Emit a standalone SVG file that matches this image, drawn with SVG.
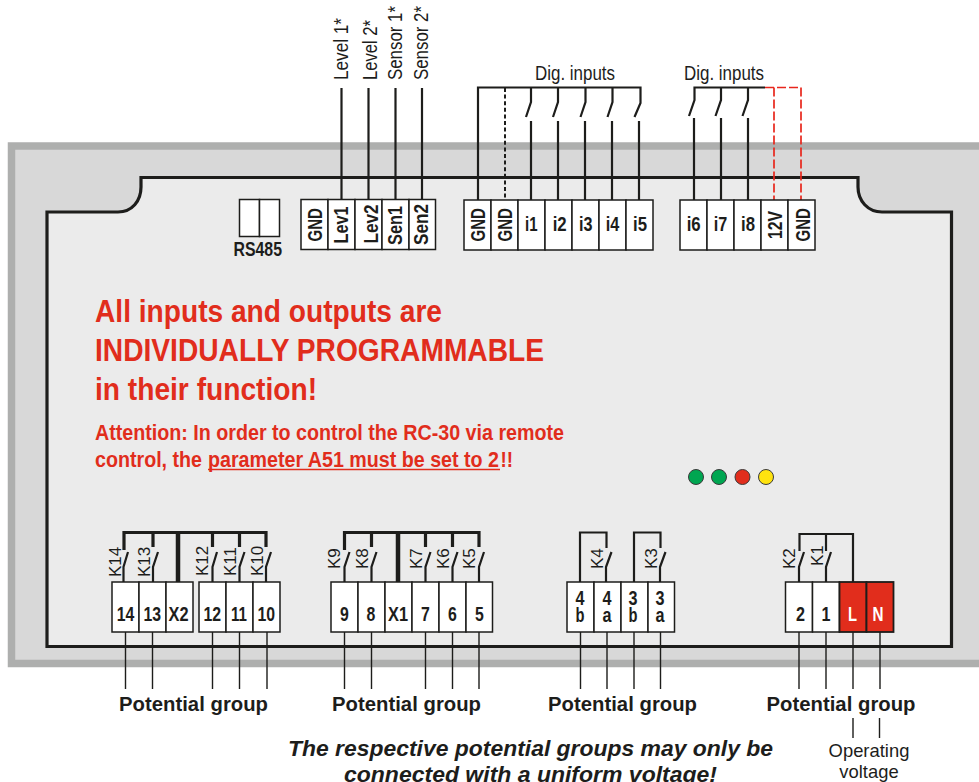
<svg xmlns="http://www.w3.org/2000/svg" width="979" height="782" viewBox="0 0 979 782">
<style>
text{font-family:"Liberation Sans",Arial,sans-serif;fill:#1d1d1b}
.cell{fill:#fff;stroke:#1d1d1b;stroke-width:1.5}
.red{fill:#e12d1c;stroke:#1d1d1b;stroke-width:1.8}
.w{fill:none;stroke:#1d1d1b;stroke-width:2.2}
.n{fill:none;stroke:#1d1d1b;stroke-width:1.4}
.t{fill:none;stroke:#1d1d1b;stroke-width:3.2}
.dash{fill:none;stroke:#1d1d1b;stroke-width:2;stroke-dasharray:4 2.6}
.rd{fill:none;stroke:#e8261c;stroke-width:1.7;stroke-dasharray:9 3}
.tb{font-size:21px;font-weight:bold}
.nb{font-size:20px;font-weight:bold}
.k{font-size:17px}
.top{font-size:20px}
.pg{font-size:20.3px;font-weight:bold}
.rh{font-size:32px;font-weight:bold;fill:#e12d1c}
.ra{font-size:22px;font-weight:bold;fill:#e12d1c}
.it{font-size:22px;font-weight:bold;font-style:italic}
.led{stroke:#3a3a3a;stroke-width:1}
</style>
<g id="housing">
<rect x="11.500" y="146" width="975" height="517.500" fill="#d8d8d8" stroke="#aeafae" stroke-width="7.500"/>
<path d="M141 177.500H858V187C858 201 868 212 882 212H951.500V646.500H47V212H118C132 212 141 201 141 187Z" fill="#ebebeb" stroke="#1d1d1b" stroke-width="3.200"/>
</g>
<g id="connectors">
<path class="w" d="M341.500 88V199M368.500 88V199M395.500 88V199M422 88V199"/>
<path class="w" d="M478 200V87.500H640.500V103L634.500 117M531 87.500V102L526 117M558 87.500V102L553 117M585.500 87.500V102L580.500 117M612.500 87.500V102L607.500 117"/>
<path class="w" d="M531 121V200M558 121V200M585 121V200M612 121V200M639 121V200"/>
<path class="dash" d="M505 88V200"/>
<path class="w" d="M765 87.500H694.500V100L689 116M721 87.500V100L715.500 116M748 87.500V100L742.500 116"/>
<path class="w" d="M694 118V200M721 118V200M748 118V200"/>
<path class="rd" d="M765 87.500H801V200M774 87.500V200"/>
<path class="t" d="M124 550V532.500H266V547M153 532.500V547M212.500 532.500V547M239.500 532.500V547"/>
<path class="t" d="M344.500 550V532.500H479V547M371.500 532.500V547M425.500 532.500V547M452.500 532.500V547" />
<path fill="none" stroke="#1d1d1b" stroke-width="4.500" d="M178 532.500V582M398 532.500V582"/>
<path class="w" d="M128 552L123.500 567V582M158 552L153 567V582M217 552L212.500 567V582M244.500 552L239.500 567V582M271 552L266 567V582M349.500 552L344.500 567V582M376.500 552L371.500 567V582M430.500 552L425.500 567V582M457.500 552L452.500 567V582M484 552L479 567V582"/>
<path class="w" d="M580 582V532.500H606.500V548M634 582V532.500H660.500V548M611.500 552L606 567V582M665.500 552L660 567V582"/>
<path class="w" d="M799.500 551V534H853V582M826 534V551M804 552L799 567V582M831 552L826 567V582"/>
<path class="n" d="M125.500 632V689M152.500 632V689M212.500 632V689M239.500 632V689M267 632V689M344.500 632V689M371.500 632V689M425.500 632V689M452.500 632V689M479 632V689M580.500 632V689M607 632V689M634 632V689M660.500 632V689M799 632V689M826 632V689M853 632V689M880 632V689M853 718V738M879.500 718V738"/>
</g>
<g id="rs485">
<rect class="cell" x="239.500" y="199.500" width="20" height="37"/><rect class="cell" x="259.500" y="199.500" width="20" height="37"/>
<text class="nb" x="233.500" y="256" textLength="48.500" lengthAdjust="spacingAndGlyphs">RS485</text>
</g>
<g id="terminals-sensors">
<rect class="cell" x="301" y="199.500" width="27" height="50"/><rect class="cell" x="328" y="199.500" width="27" height="50"/><rect class="cell" x="355" y="199.500" width="27" height="50"/><rect class="cell" x="382" y="199.500" width="27" height="50"/><rect class="cell" x="409" y="199.500" width="26.500" height="50"/>
<text class="tb" transform="translate(321.500 241.500) rotate(-90)" textLength="33.500" lengthAdjust="spacingAndGlyphs">GND</text>
<text class="tb" transform="translate(347.700 243.500) rotate(-90)" textLength="37" lengthAdjust="spacingAndGlyphs">Lev1</text>
<text class="tb" transform="translate(377.500 243.500) rotate(-90)" textLength="39" lengthAdjust="spacingAndGlyphs">Lev2</text>
<text class="tb" transform="translate(402.300 245) rotate(-90)" textLength="39" lengthAdjust="spacingAndGlyphs">Sen1</text>
<text class="tb" transform="translate(428.300 245) rotate(-90)" textLength="41" lengthAdjust="spacingAndGlyphs">Sen2</text>
</g>
<g id="terminals-inputs-1">
<rect class="cell" x="464" y="200" width="27" height="50"/><rect class="cell" x="491" y="200" width="27" height="50"/><rect class="cell" x="518" y="200" width="27" height="50"/><rect class="cell" x="545" y="200" width="27" height="50"/><rect class="cell" x="572" y="200" width="27" height="50"/><rect class="cell" x="599" y="200" width="27" height="50"/><rect class="cell" x="626" y="200" width="27" height="50"/>
<text class="tb" transform="translate(485 241.500) rotate(-90)" textLength="33.500" lengthAdjust="spacingAndGlyphs">GND</text>
<text class="tb" transform="translate(512.300 241.500) rotate(-90)" textLength="33.500" lengthAdjust="spacingAndGlyphs">GND</text>
<text class="tb" x="525" y="231" textLength="12.500" lengthAdjust="spacingAndGlyphs">i1</text>
<text class="tb" x="552.700" y="231" textLength="14" lengthAdjust="spacingAndGlyphs">i2</text>
<text class="tb" x="579" y="231" textLength="13.500" lengthAdjust="spacingAndGlyphs">i3</text>
<text class="tb" x="605.700" y="231" textLength="13.500" lengthAdjust="spacingAndGlyphs">i4</text>
<text class="tb" x="633" y="231" textLength="14" lengthAdjust="spacingAndGlyphs">i5</text>
</g>
<g id="terminals-inputs-2">
<rect class="cell" x="680" y="200" width="27" height="50"/><rect class="cell" x="707" y="200" width="27" height="50"/><rect class="cell" x="734" y="200" width="27" height="50"/><rect class="cell" x="761" y="200" width="27" height="50"/><rect class="cell" x="788" y="200" width="27" height="50"/>
<text class="tb" x="686.700" y="231" textLength="14" lengthAdjust="spacingAndGlyphs">i6</text>
<text class="tb" x="713.700" y="231" textLength="13.500" lengthAdjust="spacingAndGlyphs">i7</text>
<text class="tb" x="741" y="231" textLength="14" lengthAdjust="spacingAndGlyphs">i8</text>
<text class="tb" transform="translate(781.700 239) rotate(-90)" textLength="28" lengthAdjust="spacingAndGlyphs">12V</text>
<text class="tb" transform="translate(810 241.500) rotate(-90)" textLength="33.500" lengthAdjust="spacingAndGlyphs">GND</text>
</g>
<g id="top-labels">
<text class="top" transform="translate(347.700 80) rotate(-90)" textLength="62" lengthAdjust="spacingAndGlyphs">Level 1*</text>
<text class="top" transform="translate(376.700 80) rotate(-90)" textLength="60" lengthAdjust="spacingAndGlyphs">Level 2*</text>
<text class="top" transform="translate(401.700 80) rotate(-90)" textLength="74" lengthAdjust="spacingAndGlyphs">Sensor 1*</text>
<text class="top" transform="translate(428 80) rotate(-90)" textLength="74" lengthAdjust="spacingAndGlyphs">Sensor 2*</text>
<text class="top" x="535" y="80" textLength="80" lengthAdjust="spacingAndGlyphs">Dig. inputs</text>
<text class="top" x="684" y="80" textLength="80" lengthAdjust="spacingAndGlyphs">Dig. inputs</text>
</g>
<g id="notice">
<text class="rh" x="95" y="322" textLength="347" lengthAdjust="spacingAndGlyphs">All inputs and outputs are</text>
<text class="rh" x="95" y="361" textLength="449" lengthAdjust="spacingAndGlyphs">INDIVIDUALLY PROGRAMMABLE</text>
<text class="rh" x="95" y="400" textLength="222" lengthAdjust="spacingAndGlyphs">in their function!</text>
<text class="ra" x="95" y="440" textLength="469" lengthAdjust="spacingAndGlyphs">Attention: In order to control the RC-30 via remote</text>
<text class="ra" x="95" y="467" textLength="107" lengthAdjust="spacingAndGlyphs">control, the</text>
<text class="ra" x="208" y="467" textLength="291" lengthAdjust="spacingAndGlyphs">parameter A51 must be set to 2</text>
<text class="ra" x="500.500" y="467" textLength="12.500" lengthAdjust="spacingAndGlyphs">!!</text>
<path d="M208 469.500H500" stroke="#e12d1c" stroke-width="1.700" fill="none"/>
</g>
<g id="leds">
<circle class="led" cx="696" cy="477" r="7.500" fill="#00a651"/>
<circle class="led" cx="719" cy="477" r="7.500" fill="#00a651"/>
<circle class="led" cx="742.500" cy="477" r="7.500" fill="#e12d1c"/>
<circle class="led" cx="766" cy="477" r="7.500" fill="#ffe30f"/>
</g>
<g id="relays-k14-x2">
<rect class="cell" x="112" y="582" width="27" height="50"/><rect class="cell" x="139" y="582" width="27" height="50"/><rect class="cell" x="166" y="582" width="27" height="50"/>
<text class="nb" x="116.700" y="621" textLength="17.600" lengthAdjust="spacingAndGlyphs">14</text>
<text class="nb" x="143.500" y="621" textLength="17.600" lengthAdjust="spacingAndGlyphs">13</text>
<text class="nb" x="168.500" y="621" textLength="20" lengthAdjust="spacingAndGlyphs">X2</text>
<text class="k" transform="translate(120.700 577) rotate(-90)">K14</text>
<text class="k" transform="translate(150 577) rotate(-90)">K13</text>
</g>
<g id="relays-k12-k10">
<rect class="cell" x="199" y="582" width="27" height="50"/><rect class="cell" x="226" y="582" width="27" height="50"/><rect class="cell" x="253" y="582" width="27" height="50"/>
<text class="nb" x="203.500" y="621" textLength="17.600" lengthAdjust="spacingAndGlyphs">12</text>
<text class="nb" x="231" y="621" textLength="16" lengthAdjust="spacingAndGlyphs">11</text>
<text class="nb" x="257.500" y="621" textLength="17.600" lengthAdjust="spacingAndGlyphs">10</text>
<text class="k" transform="translate(208 576) rotate(-90)">K12</text>
<text class="k" transform="translate(235.700 576) rotate(-90)">K11</text>
<text class="k" transform="translate(262.700 576) rotate(-90)">K10</text>
</g>
<g id="relays-k9-k5">
<rect class="cell" x="331" y="582" width="27" height="50"/><rect class="cell" x="358" y="582" width="27" height="50"/><rect class="cell" x="385" y="582" width="27" height="50"/><rect class="cell" x="412" y="582" width="27" height="50"/><rect class="cell" x="439" y="582" width="27" height="50"/><rect class="cell" x="466" y="582" width="26.500" height="50"/>
<text class="nb" x="340" y="621" textLength="8.800" lengthAdjust="spacingAndGlyphs">9</text>
<text class="nb" x="366.500" y="621" textLength="8.800" lengthAdjust="spacingAndGlyphs">8</text>
<text class="nb" x="388" y="621" textLength="20" lengthAdjust="spacingAndGlyphs">X1</text>
<text class="nb" x="421" y="621" textLength="8.800" lengthAdjust="spacingAndGlyphs">7</text>
<text class="nb" x="448" y="621" textLength="8.800" lengthAdjust="spacingAndGlyphs">6</text>
<text class="nb" x="475" y="621" textLength="8.800" lengthAdjust="spacingAndGlyphs">5</text>
<text class="k" transform="translate(340 569) rotate(-90)">K9</text>
<text class="k" transform="translate(367.700 569) rotate(-90)">K8</text>
<text class="k" transform="translate(421.700 569) rotate(-90)">K7</text>
<text class="k" transform="translate(449 569) rotate(-90)">K6</text>
<text class="k" transform="translate(475 569) rotate(-90)">K5</text>
</g>
<g id="relays-k4-k3">
<rect class="cell" x="567" y="582" width="27" height="50"/><rect class="cell" x="594" y="582" width="27" height="50"/><rect class="cell" x="621" y="582" width="27" height="50"/><rect class="cell" x="648" y="582" width="26.500" height="50"/>
<text class="nb" x="575.500" y="605" textLength="9" lengthAdjust="spacingAndGlyphs">4</text>
<text class="nb" x="575.500" y="621.500" textLength="9" lengthAdjust="spacingAndGlyphs">b</text>
<text class="nb" x="602.500" y="605" textLength="9" lengthAdjust="spacingAndGlyphs">4</text>
<text class="nb" x="602.500" y="621.500" textLength="9" lengthAdjust="spacingAndGlyphs">a</text>
<text class="nb" x="628.500" y="605" textLength="9" lengthAdjust="spacingAndGlyphs">3</text>
<text class="nb" x="628.500" y="621.500" textLength="9" lengthAdjust="spacingAndGlyphs">b</text>
<text class="nb" x="655.500" y="605" textLength="9" lengthAdjust="spacingAndGlyphs">3</text>
<text class="nb" x="655.500" y="621.500" textLength="9" lengthAdjust="spacingAndGlyphs">a</text>
<text class="k" transform="translate(603.300 569) rotate(-90)">K4</text>
<text class="k" transform="translate(656.700 569) rotate(-90)">K3</text>
</g>
<g id="relays-k2-k1-power">
<rect class="cell" x="785.500" y="582" width="27" height="50"/><rect class="cell" x="812.500" y="582" width="27" height="50"/>
<rect class="red" x="839.500" y="582" width="27" height="50"/><rect class="red" x="866.500" y="582" width="27" height="50"/>
<text class="nb" x="796" y="621" textLength="9" lengthAdjust="spacingAndGlyphs">2</text>
<text class="nb" x="821.500" y="621" textLength="9" lengthAdjust="spacingAndGlyphs">1</text>
<text class="nb" x="848" y="621" textLength="9" lengthAdjust="spacingAndGlyphs" style="fill:#fff">L</text>
<text class="nb" x="872.500" y="621" textLength="11" lengthAdjust="spacingAndGlyphs" style="fill:#fff">N</text>
<text class="k" transform="translate(795 569) rotate(-90)">K2</text>
<text class="k" transform="translate(822.700 566) rotate(-90)">K1</text>
</g>
<g id="bottom-labels">
<text class="pg" x="119" y="711" textLength="149">Potential group</text>
<text class="pg" x="332" y="711" textLength="149">Potential group</text>
<text class="pg" x="548" y="711" textLength="149">Potential group</text>
<text class="pg" x="766.500" y="711" textLength="149">Potential group</text>
<text class="it" x="288" y="756" textLength="485" lengthAdjust="spacingAndGlyphs">The respective potential groups may only be</text>
<text class="it" x="344" y="781.500" textLength="373" lengthAdjust="spacingAndGlyphs">connected with a uniform voltage!</text>
<text x="869" y="757" text-anchor="middle" font-size="18.400">Operating</text>
<text x="869" y="778" text-anchor="middle" font-size="18.400">voltage</text>
</g>
</svg>
